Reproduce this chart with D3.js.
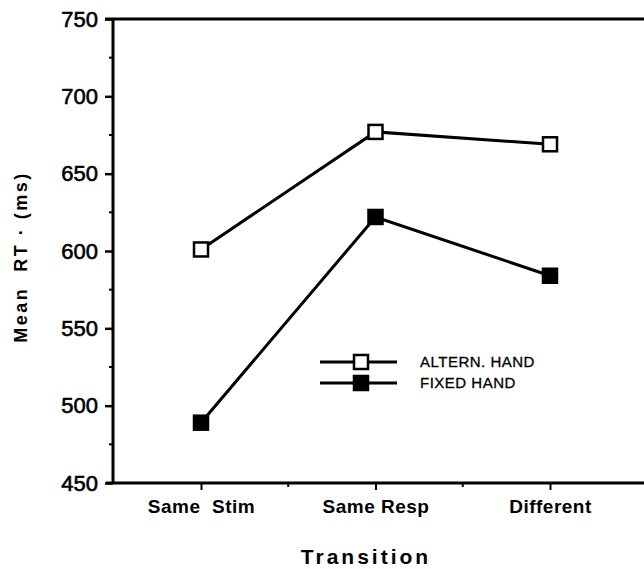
<!DOCTYPE html>
<html>
<head>
<meta charset="utf-8">
<script src="https://cdn.jsdelivr.net/npm/d3@7"></script>
<style>
  body { margin: 0; background: #fff; }
  svg { font-family: "Liberation Sans", Arial, sans-serif; }
</style>
</head>
<body>
<div id="chart"></div>
<script>
var svgWidth = 644;
var svgHeight = 569;

// data
var transitions = ["Same  Stim", "Same Resp", "Different"];
var alternHand = [601, 677, 669];
var fixedHand = [489, 622, 584];
var seriesNames = ["ALTERN. HAND", "FIXED HAND"];
var yTicks = [450, 500, 550, 600, 650, 700, 750];
var yMinor = [475, 525, 575, 625, 675, 725];

var svg = d3.select("#chart")
  .append("svg")
  .attr("width", svgWidth)
  .attr("height", svgHeight);

var plotLeft = 113, plotTop = 19, plotBottom = 483;

var x = d3.scalePoint()
  .domain(transitions)
  .range([201, 550]);

var y = d3.scaleLinear()
  .domain([450, 750])
  .range([plotBottom, plotTop]);

// y axis
var yAxis = svg.append("g")
  .attr("transform", `translate(${plotLeft},0)`)
  .call(d3.axisLeft(y).tickValues(yTicks).tickSize(8).tickPadding(7));
yAxis.select(".domain").remove();
yAxis.selectAll("line").attr("stroke-width", 2.5);
yAxis.selectAll("text")
  .style("font-size", "22px")
  .attr("fill", "#000")
  .attr("stroke", "#000")
  .attr("stroke-width", 0.6);

svg.append("g").selectAll("line")
  .data(yMinor)
  .enter()
  .append("line")
  .attr("x1", plotLeft - 4).attr("x2", plotLeft)
  .attr("y1", d => y(d)).attr("y2", d => y(d))
  .attr("stroke", "#000").attr("stroke-width", 2);

// x axis
var xAxis = svg.append("g")
  .attr("transform", `translate(0,${plotBottom})`)
  .call(d3.axisBottom(x).tickSize(7).tickPadding(10));
xAxis.select(".domain").remove();
xAxis.selectAll("line").attr("stroke-width", 2);
xAxis.selectAll("text")
  .style("font-size", "19px")
  .style("font-weight", "bold")
  .style("letter-spacing", "0.5px")
  .style("white-space", "pre")
  .attr("fill", "#000");

var mids = d3.pairs(transitions).map(p => (x(p[0]) + x(p[1])) / 2);
svg.append("g").selectAll("line")
  .data(mids)
  .enter()
  .append("line")
  .attr("x1", d => d).attr("x2", d => d)
  .attr("y1", plotBottom).attr("y2", plotBottom + 4)
  .attr("stroke", "#000").attr("stroke-width", 2);

// frame lines
svg.append("line")
  .attr("x1", plotLeft).attr("x2", plotLeft)
  .attr("y1", plotTop).attr("y2", plotBottom + 1)
  .attr("stroke", "#000").attr("stroke-width", 3);
svg.append("line")
  .attr("x1", 105).attr("x2", svgWidth)
  .attr("y1", plotTop).attr("y2", plotTop)
  .attr("stroke", "#000").attr("stroke-width", 3);
svg.append("line")
  .attr("x1", 106).attr("x2", svgWidth)
  .attr("y1", plotBottom).attr("y2", plotBottom)
  .attr("stroke", "#000").attr("stroke-width", 3);

// axis titles
svg.append("text")
  .attr("transform", `translate(27, 257) rotate(-90)`)
  .attr("text-anchor", "middle")
  .style("font-size", "18px")
  .style("font-weight", "bold")
  .style("letter-spacing", "2.5px")
  .style("white-space", "pre")
  .text("Mean  RT · (ms)");

svg.append("text")
  .attr("x", 366)
  .attr("y", 564)
  .attr("text-anchor", "middle")
  .style("font-size", "21px")
  .style("font-weight", "bold")
  .style("letter-spacing", "3px")
  .text("Transition");

// series
var series = [
  { name: seriesNames[0], values: alternHand, fill: "#fff" },
  { name: seriesNames[1], values: fixedHand, fill: "#000" }
];

var line = d3.line()
  .x((d, i) => x(transitions[i]))
  .y(d => y(d));

var sq = 14;
series.forEach(function(s) {
  svg.append("path")
    .datum(s.values)
    .attr("d", line)
    .attr("fill", "none")
    .attr("stroke", "#000")
    .attr("stroke-width", 3);

  svg.append("g").selectAll("rect")
    .data(s.values)
    .enter()
    .append("rect")
    .attr("x", (d, i) => x(transitions[i]) - sq / 2)
    .attr("y", d => y(d) - sq / 2)
    .attr("width", sq)
    .attr("height", sq)
    .attr("fill", s.fill)
    .attr("stroke", "#000")
    .attr("stroke-width", 2.5);
});

// legend
var legend = svg.append("g")
  .attr("transform", "translate(320, 362)");

var rows = legend.selectAll("g")
  .data(series)
  .enter()
  .append("g")
  .attr("transform", (d, i) => `translate(0, ${i * 21})`);

rows.append("line")
  .attr("x1", 0).attr("x2", 77)
  .attr("stroke", "#000").attr("stroke-width", 3);
rows.append("rect")
  .attr("x", 41 - sq / 2).attr("y", -sq / 2)
  .attr("width", sq).attr("height", sq)
  .attr("fill", d => d.fill)
  .attr("stroke", "#000").attr("stroke-width", 2.5);
rows.append("text")
  .attr("x", 100)
  .attr("y", 5)
  .style("font-size", "15px")
  .style("letter-spacing", "0.5px")
  .attr("stroke", "#000")
  .attr("stroke-width", 0.3)
  .text(d => d.name);
</script>
</body>
</html>
